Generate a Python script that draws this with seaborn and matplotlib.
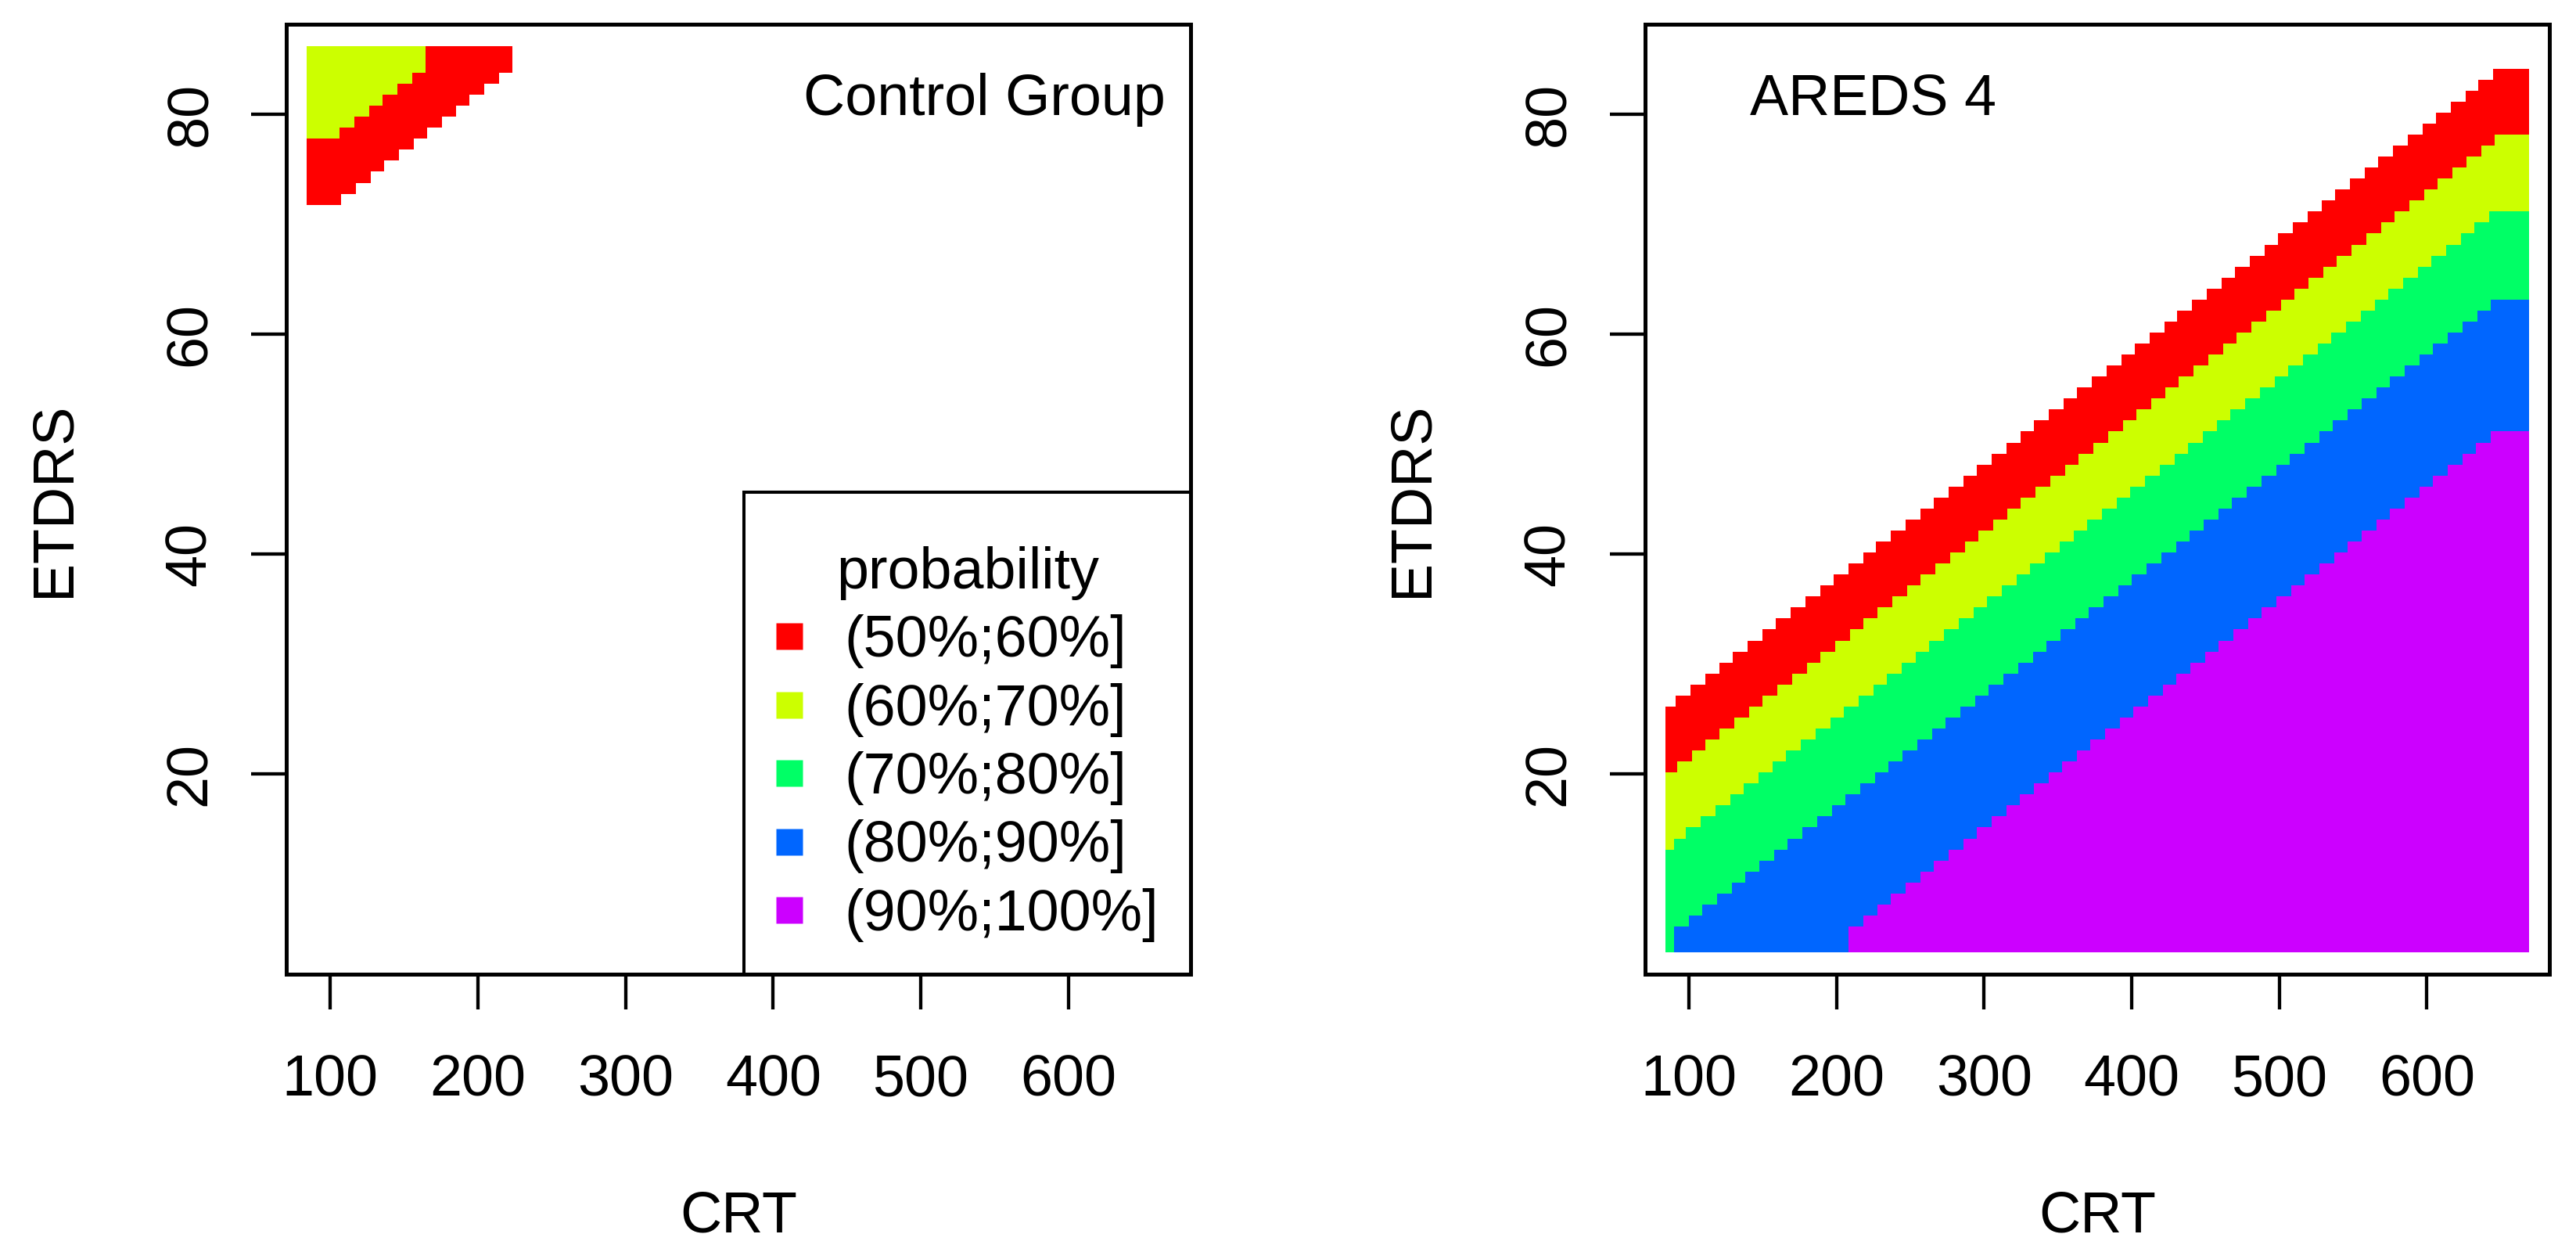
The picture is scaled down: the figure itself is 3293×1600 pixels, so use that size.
import numpy as np
import matplotlib
matplotlib.use("Agg")
import matplotlib.pyplot as plt
from matplotlib.colors import ListedColormap
from matplotlib.lines import Line2D
import seaborn as sns

# probability classes, colours as in R rainbow(5)
class_labels = ["(50%;60%]", "(60%;70%]", "(70%;80%]", "(80%;90%]", "(90%;100%]"]
class_colors = ["#FF0000", "#CCFF00", "#00FF66", "#0066FF", "#CC00FF"]

panel_titles = ["Control Group", "AREDS 4"]
x_ticks = [100, 200, 300, 400, 500, 600]
y_ticks = [20, 40, 60, 80]

# class boundaries, two (CRT, ETDRS) points per line
# control group: cells above a line belong to that class or higher
ctrl_bound_crt = [[108.0, 224.0], [106.9, 164.7]]
ctrl_bound_etdrs = [[72.3, 84.27], [78.29, 84.27]]
# AREDS 4: cells below a line belong to that class or higher
areds_bound_crt = [[91.4, 645.2], [92.0, 646.4], [98.4, 642.2], [99.5, 303.4], [218.0, 304.9]]
areds_bound_etdrs = [[26.65, 83.65], [20.65, 77.65], [14.65, 70.65], [6.65, 27.65], [6.65, 15.65]]

# grid cells (end cells are wider, as in the picture)
ctrl_crt_edges = np.r_[84.0, np.arange(106.5, 669.0), 669.0]
ctrl_crt_first = 100.0
ctrl_etdrs_edges = np.r_[np.arange(3.77, 84.0), 86.17]
ctrl_etdrs_last = 84.27

areds_crt_edges = np.r_[84.0, np.arange(90.0, 647.0), 669.0]
areds_crt_last = 647.0
areds_etdrs_edges = np.r_[3.82, np.arange(6.15, 87.0)]
areds_etdrs_first = 5.65


def mids(edges):
    return (edges[:-1] + edges[1:]) / 2


def class_grid(crt_vals, etdrs_vals, b_crt, b_etdrs, above):
    C, E = np.meshgrid(crt_vals, etdrs_vals)
    cls = np.zeros(C.shape)
    for (c1, c2), (e1, e2) in zip(b_crt, b_etdrs):
        line = e1 + (e2 - e1) / (c2 - c1) * (C - c1)
        cls += (E > line) if above else (E < line)
    return np.ma.masked_equal(cls, 0)


ctrl_crt = mids(ctrl_crt_edges)
ctrl_crt[0] = ctrl_crt_first
ctrl_etdrs = mids(ctrl_etdrs_edges)
ctrl_etdrs[-1] = ctrl_etdrs_last
ctrl_cls = class_grid(ctrl_crt, ctrl_etdrs, ctrl_bound_crt, ctrl_bound_etdrs, above=True)

areds_crt = mids(areds_crt_edges)
areds_crt[-1] = areds_crt_last
areds_etdrs = mids(areds_etdrs_edges)
areds_etdrs[0] = areds_etdrs_first
areds_cls = class_grid(areds_crt, areds_etdrs, areds_bound_crt, areds_bound_etdrs, above=False)

sns.set_theme(style="ticks", rc={
    "axes.edgecolor": "black", "text.color": "black", "axes.labelcolor": "black",
    "xtick.color": "black", "ytick.color": "black", "axes.linewidth": 3.6,
})
plt.rcParams["font.family"] = ["Liberation Sans", "DejaVu Sans"]

pal = sns.color_palette(class_colors)
cmap = ListedColormap(pal)

fig = plt.figure(figsize=(32.93, 16), dpi=100)
fig.patch.set_facecolor("white")
ax_l = fig.add_axes([0.1111, 0.2219, 0.3512, 0.7589])
ax_r = fig.add_axes([0.6385, 0.2219, 0.3512, 0.7589])

panels = [
    (ax_l, ctrl_crt_edges, ctrl_etdrs_edges, ctrl_cls),
    (ax_r, areds_crt_edges, areds_etdrs_edges, areds_cls),
]
for ax, xe, ye, cls in panels:
    ax.set_facecolor("white")
    ax.pcolormesh(xe, ye, cls, cmap=cmap, vmin=0.5, vmax=5.5,
                  shading="flat", edgecolors="none", antialiased=False)
    ax.set_xlim(70.2, 683.0)
    ax.set_ylim(1.81, 88.2)
    ax.set_xticks(x_ticks)
    ax.set_yticks(y_ticks)
    ax.tick_params(direction="out", length=32.4, width=3.1, labelsize=53)
    ax.tick_params(axis="x", pad=41)
    ax.tick_params(axis="y", pad=31)
    for lab in ax.get_yticklabels():
        lab.set_rotation(90)
        lab.set_va("center")
    ax.set_xlabel("CRT", fontsize=53, labelpad=75)
    ax.set_ylabel("ETDRS", fontsize=53, labelpad=76)
    for sp in ax.spines.values():
        sp.set_linewidth(3.6)
        sp.set_visible(True)
    ax.grid(False)

ax_l.text(0.9715, 0.9046, panel_titles[0], transform=ax_l.transAxes,
          ha="right", va="baseline", fontsize=53)
ax_r.text(0.1161, 0.9046, panel_titles[1], transform=ax_r.transAxes,
          ha="left", va="baseline", fontsize=53)

handles = [Line2D([], [], marker="s", linestyle="none", markersize=23.8,
                  markerfacecolor=c, markeredgecolor="none") for c in pal]
# leading empty line gives the extra room above the title that R leaves
leg = ax_l.legend(handles, class_labels, title="\nprobability", loc="lower right",
                  bbox_to_anchor=(1, 0), borderaxespad=0, fancybox=False,
                  edgecolor="black", framealpha=1, fontsize=53, title_fontsize=53,
                  borderpad=0.56, handlelength=0.45, handletextpad=0.73,
                  labelspacing=0.25)
leg.get_title().set_linespacing(0.24)
leg.get_frame().set_linewidth(2.9)

fig.savefig("out.png", dpi=100, facecolor="white")
